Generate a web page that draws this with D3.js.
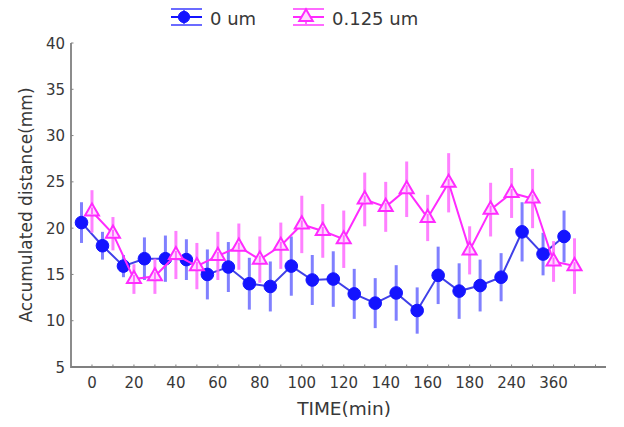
<!DOCTYPE html>
<html>
<head>
<meta charset="utf-8">
<script src="https://cdn.jsdelivr.net/npm/d3@7"></script>
<style>
    body { margin: 0; background: #fff; }
    svg text { font-family: "DejaVu Sans", sans-serif; fill: #383838; }
</style>
</head>
<body>
<div id="chart"></div>
<script>
// tick labels (every second tick carries one)
var timeLabels = ['0', '20', '40', '60', '80', '100', '120', '140', '160', '180', '240', '360'];

// means and error half-widths, one entry per time slot
var control = [20.6, 18.1, 15.9, 16.7, 16.7, 16.6, 15.0, 15.8, 14.0, 13.7, 15.9, 14.4,
               14.5, 12.9, 11.9, 13.0, 11.1, 14.9, 13.2, 13.8, 14.7, 19.6, 17.2, 19.1];
var controlErr = [2.2, 1.5, 1.2, 2.3, 2.5, 2.2, 2.7, 2.7, 2.8, 2.7, 3.2, 2.7,
                  3.0, 2.7, 2.7, 3.0, 2.5, 3.1, 3.0, 2.8, 2.6, 3.2, 2.3, 2.8];
var treated = [21.8, 19.4, 14.5, 14.8, 17.1, 15.9, 17.0, 18.0, 16.6, 18.1, 20.4, 19.7,
               18.8, 23.1, 22.3, 24.2, 21.1, 24.9, 17.6, 22.0, 23.8, 23.2, 16.4, 15.9];
var treatedErr = [2.3, 1.8, 1.6, 1.9, 2.6, 2.5, 2.6, 2.5, 2.5, 2.5, 3.1, 2.9,
                  3.1, 2.9, 2.7, 3.0, 2.5, 3.2, 2.6, 2.9, 2.7, 3.2, 2.2, 3.0];
var yTicks = [5, 10, 15, 20, 25, 30, 35, 40];

var width = 624, height = 427;
// plot frame (note: "top" is taken by window.top, so prefix these)
var plotLeft = 71, plotRight = 606, plotTop = 43, plotBottom = 367;

var svg = d3.select('#chart').append('svg')
    .attr('width', width)
    .attr('height', height);

var x = d3.scaleLinear().domain([-1, 24.5]).range([plotLeft, plotRight]);
var y = d3.scaleLinear().domain([5, 40]).range([plotBottom, plotTop]);

var BLUE = '#1414ff', BLUE_LINE = '#4040e8', BLUE_ERR = '#6b6bff';
var PINK = '#ff2bff', PINK_ERR = '#ff6bff';

// axes: plain L frame with tiny inward ticks
var axisColor = '#808080';
svg.append('path')
    .attr('d', 'M' + plotLeft + ',' + plotTop + 'V' + plotBottom + 'H' + plotRight)
    .attr('fill', 'none')
    .attr('stroke', axisColor)
    .attr('stroke-width', 1.8);

svg.selectAll('.ytick')
    .data(yTicks)
  .enter().append('line')
    .attr('class', 'ytick')
    .attr('x1', plotLeft).attr('x2', plotLeft + 2.5)
    .attr('y1', function(d) { return y(d); })
    .attr('y2', function(d) { return y(d); })
    .attr('stroke', axisColor);

svg.selectAll('.ylabel')
    .data(yTicks)
  .enter().append('text')
    .attr('class', 'ylabel')
    .attr('x', plotLeft - 6)
    .attr('y', function(d) { return y(d) + 5.5; })
    .attr('text-anchor', 'end')
    .style('font-size', '15px')
    .text(function(d) { return d; });

svg.selectAll('.xtick')
    .data(d3.range(25))
  .enter().append('line')
    .attr('class', 'xtick')
    .attr('x1', function(d) { return x(d); })
    .attr('x2', function(d) { return x(d); })
    .attr('y1', plotBottom).attr('y2', plotBottom - 2.5)
    .attr('stroke', axisColor);

svg.selectAll('.xlabel')
    .data(timeLabels)
  .enter().append('text')
    .attr('class', 'xlabel')
    .attr('x', function(d, i) { return x(i * 2); })
    .attr('y', plotBottom + 21)
    .attr('text-anchor', 'middle')
    .style('font-size', '15px')
    .text(function(d) { return d; });

svg.append('text')
    .attr('x', 344)
    .attr('y', 415)
    .attr('text-anchor', 'middle')
    .style('font-size', '18.5px')
    .text('TIME(min)');

svg.append('text')
    .attr('transform', 'translate(32,205) rotate(-90)')
    .attr('text-anchor', 'middle')
    .style('font-size', '17px')
    .text('Accumulated distance(mm)');

// one series = error bars, connecting line, markers
function series(values, errs, offset, opts) {
    var g = svg.append('g');
    var pts = values.map(function(v, i) {
        return { x: x(i + offset), v: v, e: errs[i] };
    });
    g.selectAll('.err')
        .data(pts)
      .enter().append('line')
        .attr('class', 'err')
        .attr('x1', function(d) { return d.x; })
        .attr('x2', function(d) { return d.x; })
        .attr('y1', function(d) { return y(d.v + d.e); })
        .attr('y2', function(d) { return y(d.v - d.e); })
        .attr('stroke', opts.err)
        .attr('stroke-width', 3)
        .attr('opacity', 0.85);
    g.append('path')
        .datum(pts)
        .attr('d', d3.line().x(function(d) { return d.x; }).y(function(d) { return y(d.v); }))
        .attr('fill', 'none')
        .attr('stroke', opts.line)
        .attr('stroke-width', 2);
    var sym = d3.symbol().type(opts.shape).size(opts.size);
    g.selectAll('.mark')
        .data(pts)
      .enter().append('path')
        .attr('class', 'mark')
        .attr('transform', function(d) { return 'translate(' + d.x + ',' + y(d.v) + ')'; })
        .attr('d', sym)
        .attr('fill', opts.fill)
        .attr('stroke', opts.stroke)
        .attr('stroke-width', opts.strokeWidth);
    if(opts.shape === d3.symbolTriangle) {
        // the bar shows through the hollow triangle
        g.selectAll('.inner')
            .data(pts)
          .enter().append('line')
            .attr('x1', function(d) { return d.x; })
            .attr('x2', function(d) { return d.x; })
            .attr('y1', function(d) { return y(d.v) - 4; })
            .attr('y2', function(d) { return y(d.v) + 3; })
            .attr('stroke', opts.err)
            .attr('stroke-width', 2);
    }
}

series(control, controlErr, -0.5, {
    err: BLUE_ERR, line: BLUE_LINE, shape: d3.symbolCircle, size: 125,
    fill: BLUE, stroke: BLUE, strokeWidth: 1
});
series(treated, treatedErr, 0, {
    err: PINK_ERR, line: PINK, shape: d3.symbolTriangle, size: 85,
    fill: '#ffdcff', stroke: PINK, strokeWidth: 2
});

// legend
function legendItem(cx, label, col, errCol, shape, fill, size, sw) {
    var g = svg.append('g');
    [9, 25].forEach(function(yy) {
        g.append('line')
            .attr('x1', cx - 13).attr('x2', cx + 18)
            .attr('y1', yy).attr('y2', yy)
            .attr('stroke', errCol).attr('stroke-width', 2);
    });
    g.append('line')
        .attr('x1', cx - 13).attr('x2', cx + 18)
        .attr('y1', 17).attr('y2', 17)
        .attr('stroke', col).attr('stroke-width', 2);
    g.append('line')
        .attr('x1', cx).attr('x2', cx)
        .attr('y1', 9).attr('y2', 25)
        .attr('stroke', errCol).attr('stroke-width', 2);
    g.append('path')
        .attr('transform', 'translate(' + cx + ',17)')
        .attr('d', d3.symbol().type(shape).size(size))
        .attr('fill', fill)
        .attr('stroke', col)
        .attr('stroke-width', sw);
    g.append('text')
        .attr('x', cx + 26)
        .attr('y', 24.5)
        .style('font-size', '18px')
        .text(label);
}
legendItem(184, '0 um', BLUE, BLUE_ERR, d3.symbolCircle, BLUE, 100, 1);
legendItem(306, '0.125 um', PINK, PINK_ERR, d3.symbolTriangle, '#ffdcff', 80, 2);
</script>
</body>
</html>
